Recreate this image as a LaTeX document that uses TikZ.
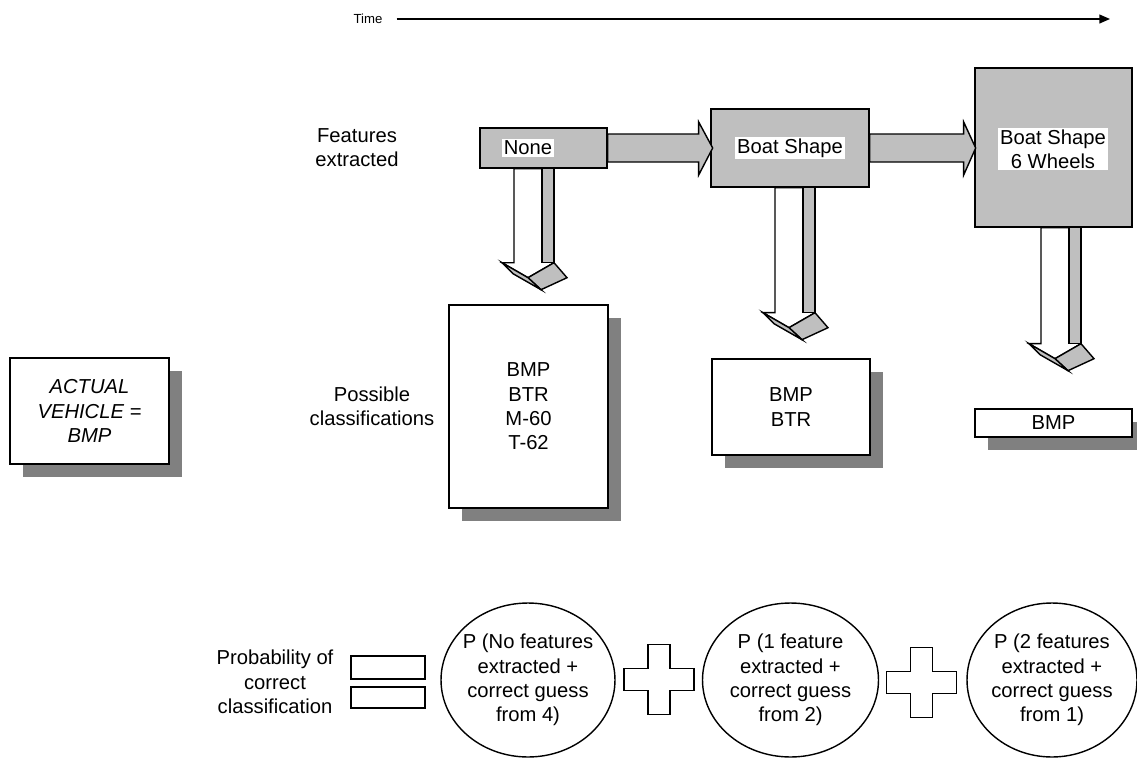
\documentclass[tikz,border=0pt]{standalone}
\usepackage{fontspec}
\setmainfont{Liberation Sans}
\usepackage{tikz}
\usetikzlibrary{arrows.meta, shadows, shapes.geometric}
\tikzstyle{arrow} = [thick,-{Triangle[length=6pt,width=5pt]}]
\tikzstyle{featbox} = [rectangle, draw=black, thick, fill=gray!50]
\tikzstyle{tag} = [fill=white, inner sep=1pt, align=center]
\tikzstyle{classbox} = [rectangle, draw=black, thick, fill=white, align=center, drop shadow={opacity=1, fill=gray, shadow xshift=0.26cm, shadow yshift=-0.26cm}]
\tikzstyle{prob} = [ellipse, draw=black, thick, align=center, inner xsep=-10pt, inner ysep=0pt]
\tikzstyle{eqbar} = [rectangle, draw=black, thick, minimum width=1.48cm]
\tikzstyle{fat} = [thick, draw=black, fill=gray!50]
\tikzstyle{side} = [align=center]
\tikzset{crossmark/.pic={\filldraw[thick, fill=white] (-11,-35) -- (11,-35) -- (11,-11) -- (35,-11) -- (35,11) -- (11,11) -- (11,35) -- (-11,35) -- (-11,11) -- (-35,11) -- (-35,-11) -- (-11,-11) -- cycle;}}
\newcommand{\fatdown}[2]{%
  \begin{scope}[shift={#1}]
    \filldraw[thick, fill=white] (0,0) -- (0,#2) -- (-12,#2) -- (14,#2+15) -- (40,#2) -- (40,0) -- cycle;
    \filldraw[fat] (28,0) rectangle (40,#2);
    \filldraw[fat] (14,#2+15) -- (40,#2) -- (53,#2+15) -- (27,#2+27) -- cycle;
    \filldraw[fat] (-12,#2) -- (14,#2+15) -- (27,#2+27) -- (-1,#2+11) -- cycle;
  \end{scope}}
\begin{document}
\begin{tikzpicture}[x=0.02cm, y=-0.02cm, every node/.style={font=\fontsize{11.5}{13.8}\selectfont}]
\useasboundingbox (0,0) rectangle (1137,758);

\node (time)[font=\fontsize{7.5}{9}\selectfont] at (368,19) {Time};
\coordinate (tend) at (1110,19);
\draw [arrow] (time.east) ++(8,0) -- (tend);

\node (none)[featbox, minimum width=2.54cm, minimum height=0.8cm] at (543.5,148) {};
\node (boat)[featbox, minimum width=3.16cm, minimum height=1.56cm] at (790,148) {};
\node (wheels)[featbox, minimum width=3.14cm, minimum height=3.18cm] at (1053.5,147.5) {};
\node (tnone)[tag] at (528,148) {None};
\node (tboat)[tag] at (790,148) {Boat Shape};
\node (twheels)[tag] at (1053,149) {Boat Shape\\6 Wheels};
\node (feat)[side] at (357,148) {Features\\extracted};

\filldraw [fat] ([yshift=0.28cm]none.east) -- ++(91,0) -- ++(0,-12) -- ++(14,26) -- ++(-14,27) -- ++(0,-13) -- ++(-91,0) -- cycle;
\filldraw [fat] ([yshift=0.28cm]boat.east) -- ++(94,0) -- ++(0,-12) -- ++(12,26) -- ++(-12,27) -- ++(0,-13) -- ++(-94,0) -- cycle;

\fatdown{([xshift=-0.59cm]none.south)}{94}
\fatdown{([xshift=-0.30cm]boat.south)}{125}
\fatdown{([xshift=-0.25cm]wheels.south)}{116}

\node (actual)[classbox, minimum width=3.18cm, minimum height=2.12cm, font=\fontsize{11.5}{13.8}\selectfont\itshape] at (89.5,411) {ACTUAL\\VEHICLE =\\BMP};
\node (poss)[side] at (372,406) {Possible\\classifications};
\node (cls1)[classbox, minimum width=3.18cm, minimum height=4.06cm] at (528.5,406.5) {BMP\\BTR\\M-60\\T-62};
\node (cls2)[classbox, minimum width=3.16cm, minimum height=1.92cm] at (791,407) {BMP\\BTR};
\node (cls3)[classbox, minimum width=3.14cm, minimum height=0.56cm] at (1053.5,423) {BMP};

\node (pcc)[side] at (275,682) {Probability of\\correct\\classification};
\node (eqtop)[eqbar, minimum height=0.46cm] at (388,667.5) {};
\node (eqbot)[eqbar, minimum height=0.42cm] at (388,697.5) {};
\node (p0)[prob, minimum width=3.48cm, minimum height=3.08cm] at (528,680) {P (No features\\extracted +\\correct guess\\from 4)};
\pic (plusA) at (659,679.5) {crossmark};
\node (p1)[prob, minimum width=3.52cm, minimum height=3.08cm] at (790.5,680) {P (1 feature\\extracted +\\correct guess\\from 2)};
\pic (plusB) at (921.5,682.5) {crossmark};
\node (p2)[prob, minimum width=3.4cm, minimum height=3.08cm] at (1052,680) {P (2 features\\extracted +\\correct guess\\from 1)};

\end{tikzpicture}
\end{document}
